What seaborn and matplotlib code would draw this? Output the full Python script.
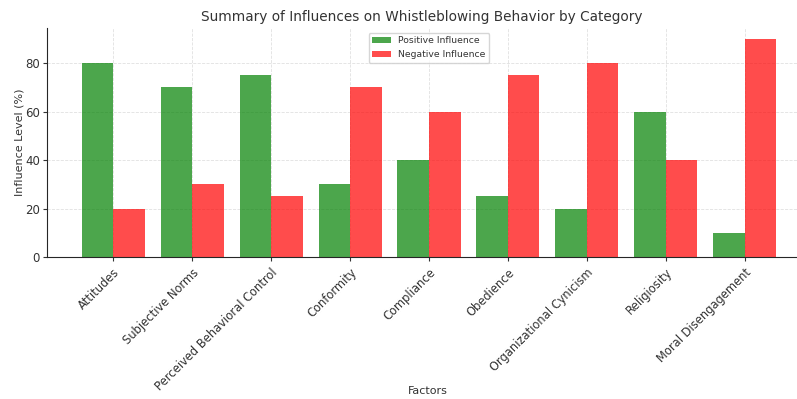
import numpy as np, pandas as pd
from matplotlib import pyplot as plt
import seaborn as sns

# Chart data
factors = [
    "Attitudes",
    "Subjective Norms",
    "Perceived Behavioral Control",
    "Conformity",
    "Compliance",
    "Obedience",
    "Organizational Cynicism",
    "Religiosity",
    "Moral Disengagement",
]
positive = [80, 70, 75, 30, 40, 25, 20, 60, 10]
negative = [20, 30, 25, 70, 60, 75, 80, 40, 90]

df = pd.DataFrame({
    "Factors": factors * 2,
    "value": positive + negative,
    "kind": ["Positive Influence"] * len(factors) + ["Negative Influence"] * len(factors),
})

sns.set_style("ticks")
plt.rcParams["font.family"] = ["DejaVu Sans"]

fig = plt.figure(figsize=(7.97, 3.99), dpi=100)
ax = fig.add_axes([47 / 797, 1 - 257 / 399, (811 - 47) / 797, (257 - 28) / 399])

palette = {"Positive Influence": "green", "Negative Influence": "red"}
sns.barplot(
    data=df, x="Factors", y="value", hue="kind", palette=palette,
    width=0.8, gap=0, saturation=1, alpha=0.7, ax=ax, edgecolor="none",
)

ax.set_xlim(-0.84, 8.84)
ax.set_ylim(0, 94.5)
ax.set_yticks([0, 20, 40, 60, 80])
ax.grid(True, linestyle="--", alpha=0.6, linewidth=0.6)
ax.set_axisbelow(True)
sns.despine(ax=ax)

ax.set_title("Summary of Influences on Whistleblowing Behavior by Category",
             fontsize=9.8, color="#333333", pad=5, x=0.49)
ax.set_xlabel("Factors", color="#333333", fontsize=8)
ax.xaxis.set_label_coords(0.4987, -0.565)
ax.set_ylabel("Influence Level (%)", color="#333333", fontsize=8)
ax.yaxis.set_label_coords(-0.029, 0.5)
plt.setp(ax.get_xticklabels(), rotation=45, ha="right", rotation_mode="anchor")
ax.tick_params(colors="#333333", length=3)
ax.tick_params(axis="x", labelsize=8.3)
ax.tick_params(axis="y", labelsize=8.5, pad=2)

leg = ax.legend(loc="upper center", bbox_to_anchor=(0.5, 1.0), fontsize=6.7, title=None)
for t in leg.get_texts():
    t.set_color("#333333")

fig.savefig("out.png", dpi=100)
